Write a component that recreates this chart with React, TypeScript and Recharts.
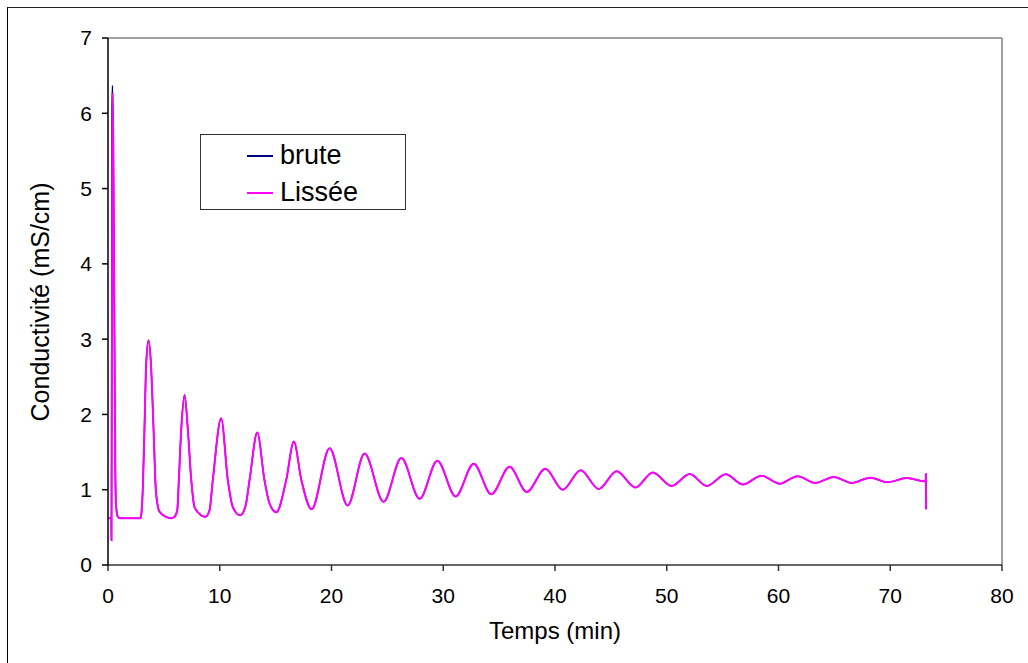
import React from "react";
import { LineChart, Line, XAxis, YAxis, Legend, ReferenceLine, Label } from "recharts";

// Time (min) of each sample
const times = [
  0, 0.29, 0.31, 0.36, 0.4, 0.47, 0.58, 0.65, 0.72, 0.85, 1.1, 2.88,
  3.0, 3.12, 3.26, 3.42, 3.63, 3.84, 4.08, 4.28, 4.6, 5.2, 5.66, 5.95,
  6.2, 6.34, 6.55, 6.85, 7.15, 7.45, 7.74, 8.34, 8.73,
  9.09, 9.38, 10.13, 10.72, 11.17, 11.83,
  12.3, 12.67, 13.36, 14.0, 14.45, 15.06,
  15.95, 16.63, 17.3, 18.22,
  19.83, 21.44, 22.96, 24.66, 26.25, 27.89, 29.47, 31.11, 32.72, 34.3,
  35.94, 37.47, 39.14, 40.69, 42.3, 43.91, 45.52, 47.2, 48.75, 50.42,
  52.06, 53.58, 55.28, 56.8, 58.48, 60.1, 61.7, 63.3, 64.95, 66.53,
  68.2, 69.76, 71.46, 73.17, 73.19, 73.21,
];

// Smoothed conductivity (mS/cm)
const lissee = [
  0.62, 0.62, 0.33, 3.2, 6.27, 5.6, 3.0, 1.3, 0.8, 0.65, 0.62, 0.62,
  0.7, 1.04, 1.79, 2.68, 2.98, 2.68, 1.79, 1.0, 0.71, 0.64, 0.62, 0.64,
  0.73, 1.13, 1.79, 2.25, 1.79, 1.13, 0.77, 0.66, 0.64,
  0.73, 1.13, 1.95, 1.13, 0.77, 0.66,
  0.78, 1.13, 1.76, 1.13, 0.82, 0.7,
  1.13, 1.64, 1.13, 0.74,
  1.55, 0.79, 1.48, 0.84, 1.42, 0.88, 1.385, 0.91, 1.345, 0.94,
  1.305, 0.97, 1.28, 1.0, 1.26, 1.01, 1.245, 1.03, 1.23, 1.05,
  1.21, 1.05, 1.205, 1.07, 1.186, 1.08, 1.18, 1.09, 1.17, 1.09,
  1.16, 1.1, 1.155, 1.11, 1.21, 0.74,
];

// Raw conductivity (mS/cm)
const brute = [
  0.62, 0.62, 0.33, 6.05, 6.37, 5.7, 3.0, 1.3, 0.8, 0.65, 0.62, 0.62,
  0.7, 1.04, 1.79, 2.68, 2.99, 2.68, 1.79, 1.0, 0.71, 0.64, 0.62, 0.64,
  0.73, 1.13, 1.79, 2.26, 1.79, 1.13, 0.77, 0.66, 0.64,
  0.73, 1.13, 1.95, 1.13, 0.77, 0.66,
  0.78, 1.13, 1.76, 1.13, 0.82, 0.7,
  1.13, 1.64, 1.13, 0.74,
  1.55, 0.79, 1.48, 0.84, 1.42, 0.88, 1.385, 0.91, 1.345, 0.94,
  1.305, 0.97, 1.28, 1.0, 1.26, 1.01, 1.245, 1.03, 1.23, 1.05,
  1.21, 1.05, 1.205, 1.07, 1.186, 1.08, 1.18, 1.09, 1.17, 1.09,
  1.16, 1.1, 1.155, 1.11, 1.21, 0.74,
];

const xTicks = [0, 10, 20, 30, 40, 50, 60, 70, 80];
const yTicks = [0, 1, 2, 3, 4, 5, 6, 7];
const legendOrder = ["brute", "Lissée"];

const data = times.map((t, i) => ({ t, brute: brute[i], lissee: lissee[i] }));

const FONT = "'Liberation Sans', Arial, sans-serif";

const renderLegend = (props: any) => {
  const payload = [...(props.payload || [])].sort(
    (a: any, b: any) => legendOrder.indexOf(a.value) - legendOrder.indexOf(b.value)
  );
  return (
    <div
      style={{
        width: 206,
        height: 76,
        boxSizing: "border-box",
        border: "1px solid #333",
        background: "#fff",
        position: "relative",
        fontFamily: FONT,
      }}
    >
      {payload.map((p: any, i: number) => (
        <div key={i}>
          <div
            style={{
              position: "absolute",
              left: 46,
              top: 20 + i * 37,
              width: 26,
              height: 2,
              background: p.color,
            }}
          />
          <div
            style={{
              position: "absolute",
              left: 79,
              top: 21 + i * 37 - 17,
              fontSize: 27,
              lineHeight: "32px",
              color: "#000",
            }}
          >
            {p.value}
          </div>
        </div>
      ))}
    </div>
  );
};

export default function App() {
  return (
    <div
      style={{
        position: "fixed",
        left: 0,
        top: 0,
        width: 1028,
        height: 663,
        background: "#fff",
        overflow: "hidden",
      }}
    >
      <div
        style={{
          position: "absolute",
          left: 7,
          top: 7,
          width: 1100,
          height: 700,
          borderLeft: "1px solid #000",
          borderTop: "1px solid #222",
        }}
      />
      <div style={{ position: "absolute", left: 0, top: 0 }}>
        <LineChart
          width={1028}
          height={663}
          data={data}
          margin={{ top: 38, right: 26, bottom: 38, left: 48 }}
        >
          <XAxis
            dataKey="t"
            type="number"
            domain={[0, 80]}
            ticks={xTicks}
            interval={0}
            height={60}
            tickSize={6}
            tickMargin={17}
            stroke="#333"
            strokeWidth={1.5}
            tick={{ fill: "#000", fontSize: 21, fontFamily: FONT }}
          >
            <Label
              content={() => (
                <text
                  x={555}
                  y={639}
                  textAnchor="middle"
                  fontSize={24}
                  fontFamily={FONT}
                  fill="#000"
                >
                  Temps (min)
                </text>
              )}
            />
          </XAxis>
          <YAxis
            type="number"
            domain={[0, 7]}
            ticks={yTicks}
            interval={0}
            width={60}
            tickSize={6}
            tickMargin={10}
            stroke="#000"
            strokeWidth={1.5}
            tick={{ fill: "#000", fontSize: 21, fontFamily: FONT }}
          >
            <Label
              content={() => (
                <text
                  x={49}
                  y={302}
                  textAnchor="middle"
                  fontSize={25}
                  fontFamily={FONT}
                  fill="#000"
                  transform="rotate(-90 49 302)"
                >
                  Conductivité (mS/cm)
                </text>
              )}
            />
          </YAxis>
          <ReferenceLine y={7} stroke="#808080" strokeWidth={1.5} />
          <ReferenceLine x={80} stroke="#808080" strokeWidth={1.5} />
          <Legend
            layout="vertical"
            align="center"
            verticalAlign="middle"
            content={renderLegend}
            wrapperStyle={{ left: 200, top: 134, width: 206, height: 76 }}
          />
          <Line
            name="brute"
            dataKey="brute"
            type="monotone"
            stroke="#000080"
            strokeWidth={1.5}
            dot={false}
            isAnimationActive={false}
          />
          <Line
            name="Lissée"
            dataKey="lissee"
            type="monotone"
            stroke="#FF00FF"
            strokeWidth={2}
            dot={false}
            isAnimationActive={false}
          />
        </LineChart>
      </div>
    </div>
  );
}
